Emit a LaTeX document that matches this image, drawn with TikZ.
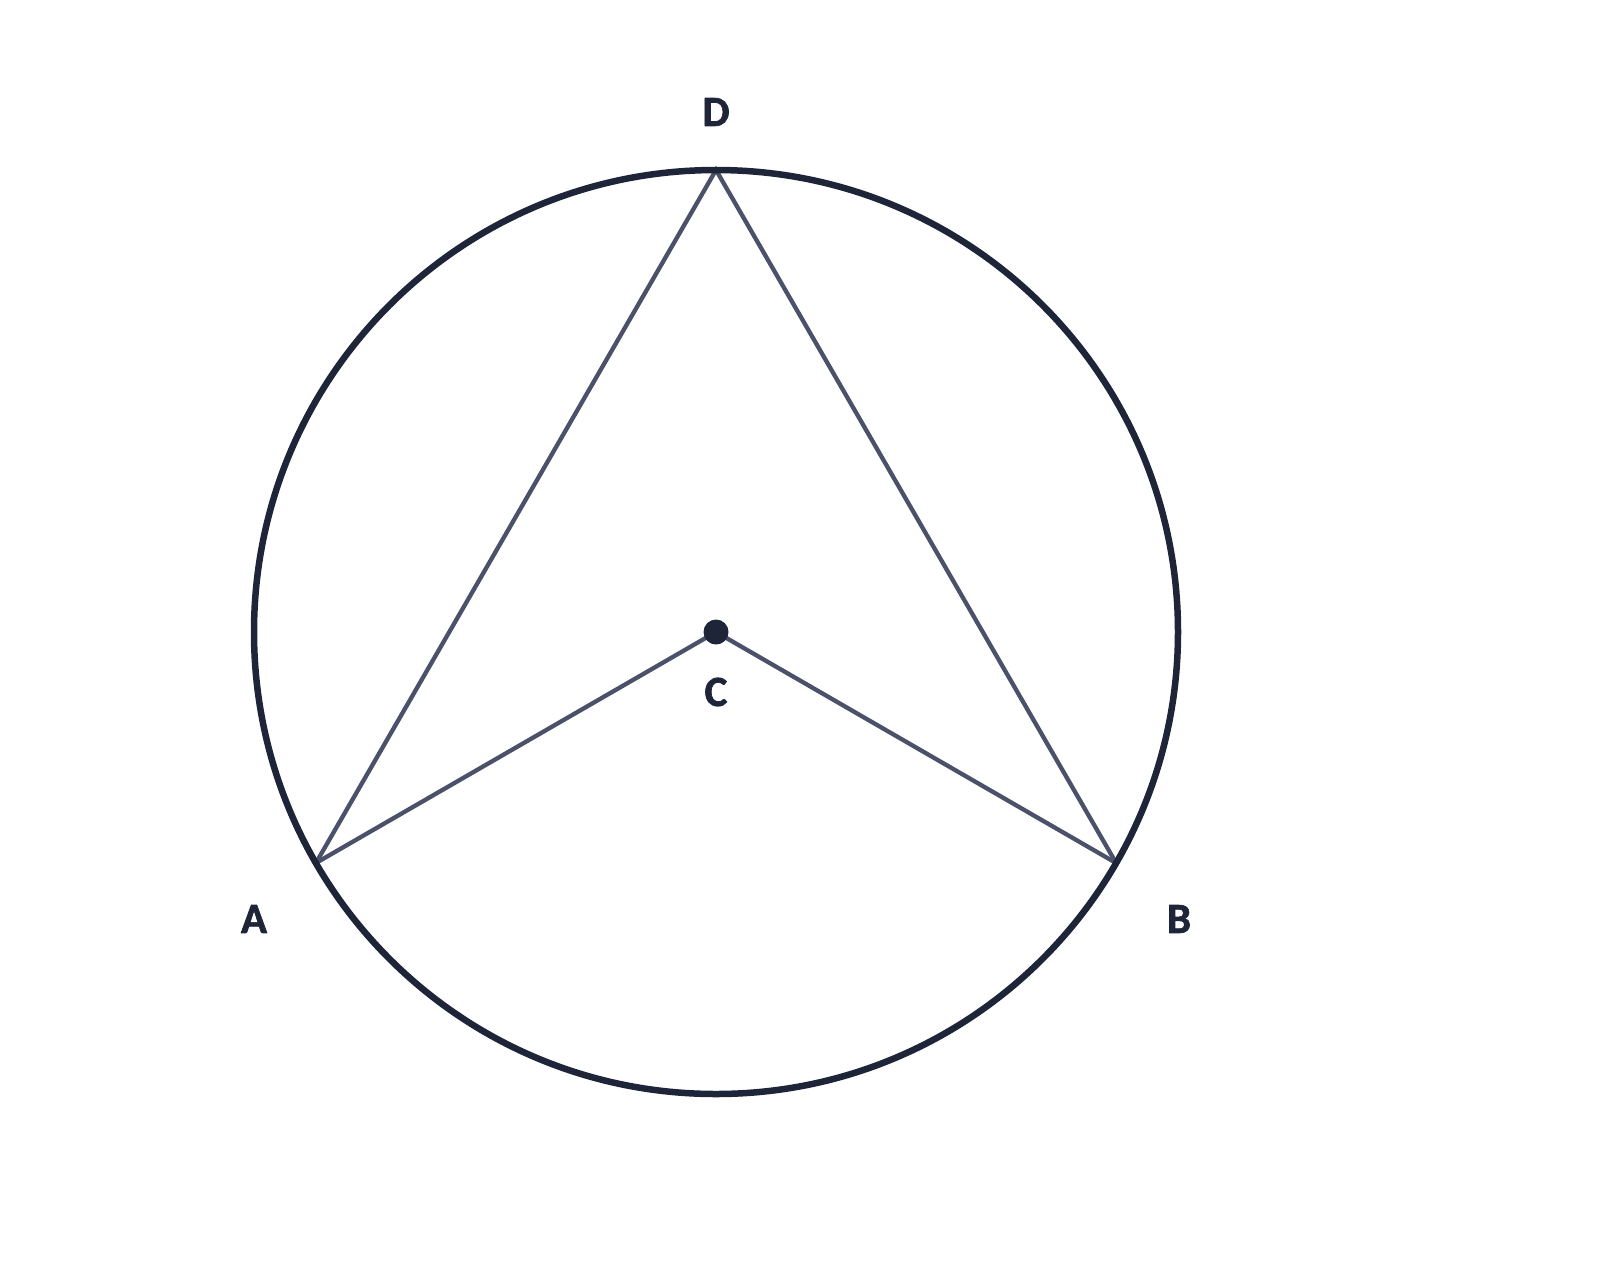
\documentclass[tikz,border=0pt]{standalone}
\usepackage{fontspec}
\setmainfont{Carlito}[BoldFeatures={FakeBold=1.5}]
\definecolor{navy}{HTML}{1F2538}
\definecolor{slate}{HTML}{4A5169}
\begin{document}
\begin{tikzpicture}[x=1pt,y=-1pt,
  lbl/.style={text=navy,font=\fontsize{43}{50}\selectfont\bfseries,inner sep=0pt},
  chord/.style={draw=slate,line width=4.3pt,line join=miter}]
\useasboundingbox (0,0) rectangle (1600,1262);
\coordinate (C) at (716,632);
\path (C) ++(0,-462) coordinate (D);
\path (C) ++(-400.1,231) coordinate (A);
\path (C) ++(400.1,231) coordinate (B);
\draw[chord] (A) -- (D) -- (B);
\draw[chord] (A) -- (C) -- (B);
\draw[navy,line width=6.5pt] (C) circle (462);
\fill[navy] (C) circle (12.5);
\node[lbl] (lD) at (716,112) {D};
\node[lbl] (lC) at (716,692) {C};
\node[lbl] (lA) at (254,919) {A};
\node[lbl] (lB) at (1179,919) {B};
\end{tikzpicture}
\end{document}
